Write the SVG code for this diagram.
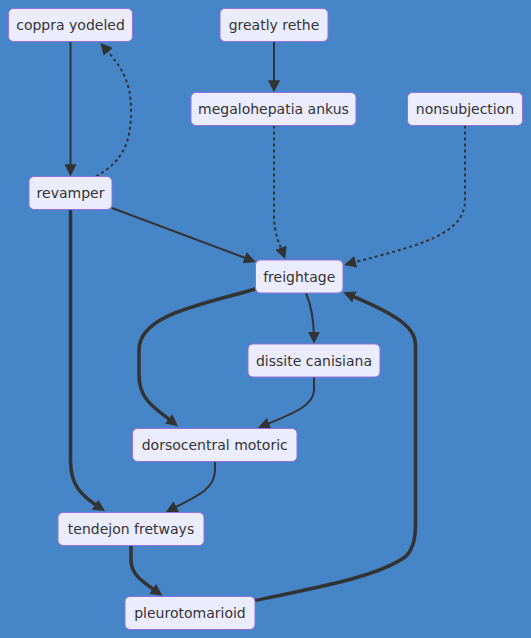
<svg xmlns="http://www.w3.org/2000/svg" width="531" height="638" viewBox="0 0 531 638">
<style>
.node rect{fill:#ECECFF;stroke:#9370DB;stroke-width:1}
.node text{font-family:"DejaVu Sans",Verdana,sans-serif;font-size:14px;fill:#333;text-anchor:middle;dominant-baseline:central}
.e{fill:none;stroke:#333;stroke-width:2}
.thick{stroke-width:3.5}
.dot{stroke-dasharray:3 3}
</style>
<defs>
<marker id="arr" viewBox="0 0 10 10" refX="6" refY="5" markerWidth="12" markerHeight="12" markerUnits="userSpaceOnUse" orient="auto">
<path d="M0,0 L10,5 L0,10 z" fill="#333"/>
</marker>
</defs>
<rect width="531" height="638" fill="#4686C8"/>
<g id="edges">
<path class="e" d="M70.5,41.5 L70.5,171.5" marker-end="url(#arr)"/>
<path class="e dot" d="M96,176.5 C125,160 131,140 131,110 C131,80 120,65 103.5,46.5" marker-end="url(#arr)"/>
<path class="e" d="M274,41.5 L274,87.5" marker-end="url(#arr)"/>
<path class="e dot" d="M274,125.5 L274,215 C274,235 280,245 283.5,254.5" marker-end="url(#arr)"/>
<path class="e dot" d="M465,125.5 L465,200 C465,235 420,245 348.8,263.7" marker-end="url(#arr)"/>
<path class="e" d="M112,208 L251.3,260.2" marker-end="url(#arr)"/>
<path class="e thick" d="M70.5,209.5 L70.5,460 C70.5,485 80,495 101,508.5" marker-end="url(#arr)"/>
<path class="e" d="M306,293 C311,305 314,320 314,339" marker-end="url(#arr)"/>
<path class="e thick" d="M255.5,289 C200,305 139,315 139,350 L139,375 C139,400 155,408 174.3,423.3" marker-end="url(#arr)"/>
<path class="e" d="M314,377 L314,390 C314,405 295,413 262.5,426" marker-end="url(#arr)"/>
<path class="e" d="M215,461.5 L215,470 C215,490 195,497 170,510" marker-end="url(#arr)"/>
<path class="e thick" d="M131,545.5 L131,560 C131,575 143,582 158.5,593" marker-end="url(#arr)"/>
<path class="e thick" d="M255,600.5 C330,585 380,575 405,557 C413,550 415.5,540 415.5,525 L415.5,345 C415.5,330 405,318 347.8,294.2" marker-end="url(#arr)"/>
</g>
<g id="n1" class="node"><rect x="8.5" y="8.5" width="124" height="33" rx="5"/><text x="70.5" y="25">coppra yodeled</text></g>
<g id="n2" class="node"><rect x="220" y="8.5" width="108" height="33" rx="5"/><text x="274" y="25">greatly rethe</text></g>
<g id="n3" class="node"><rect x="191" y="92.5" width="165" height="33" rx="5"/><text x="273.5" y="109">megalohepatia ankus</text></g>
<g id="n4" class="node"><rect x="407.5" y="92.5" width="115" height="33" rx="5"/><text x="465" y="109">nonsubjection</text></g>
<g id="n5" class="node"><rect x="29" y="176.5" width="83" height="33" rx="5"/><text x="70.5" y="193">revamper</text></g>
<g id="n6" class="node"><rect x="255.5" y="260" width="87.5" height="33" rx="5"/><text x="299.25" y="276.5">freightage</text></g>
<g id="n7" class="node"><rect x="248" y="344" width="132" height="33" rx="5"/><text x="314" y="360.5">dissite canisiana</text></g>
<g id="n8" class="node"><rect x="132.5" y="428.5" width="164.5" height="33" rx="5"/><text x="214.75" y="445">dorsocentral motoric</text></g>
<g id="n9" class="node"><rect x="58" y="512.5" width="146" height="33" rx="5"/><text x="131" y="529">tendejon fretways</text></g>
<g id="n10" class="node"><rect x="125" y="596.5" width="130" height="33" rx="5"/><text x="190" y="613">pleurotomarioid</text></g>
</svg>
